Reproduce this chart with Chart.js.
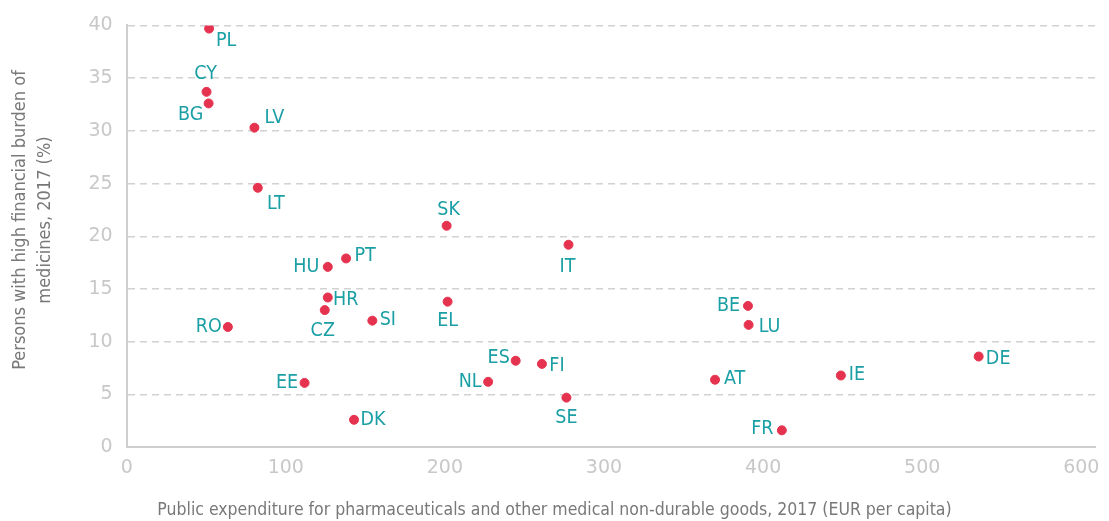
<!DOCTYPE html>
<html>
<head>
<meta charset="utf-8">
<script src="https://cdn.jsdelivr.net/npm/chart.js@4"></script>
<style>
  html, body { margin: 0; padding: 0; background: #fff; }
  #wrap { width: 1109px; height: 521px; }
</style>
</head>
<body>
<div id="wrap"><canvas id="chart" width="1109" height="521"></canvas></div>
<script>
// countries (labels)
const countries = ['PL','CY','BG','LV','LT','PT','HU','HR','CZ','SI','RO','EE','DK','SK','IT','EL','BE','LU','ES','FI','NL','AT','SE','FR','DE','IE'];
// public expenditure on pharmaceuticals, EUR per capita
const expenditure = [51.8,50.2,51.5,80.3,82.4,137.9,126.4,126.4,124.5,154.4,63.6,111.8,142.9,201.1,277.7,201.7,390.5,390.9,244.5,261.0,227.2,369.8,276.4,411.8,535.5,448.9];
// persons with high financial burden of medicines, %
const burden = [39.7,33.7,32.6,30.3,24.6,17.9,17.1,14.2,13.0,12.0,11.4,6.1,2.6,21.0,19.2,13.8,13.4,11.6,8.2,7.9,6.2,6.4,4.7,1.6,8.6,6.8];

// label offset from the point, in pixels (style only)
const labelDx = [17,-1,-18,20,18,19,-21.5,18,-2,15.5,-19,-17.5,19,2,-1,0,-19.5,21,-17,15,-18,19.5,0,-19.5,19.5,16];
const labelDy = [12.5,-18,11.5,-10,16.5,-2.5,0,2,21,-0.5,-0.5,0,0.5,-16,22,19.5,0,2,-2.5,2,0,-1,20.5,-1,2.5,-0.5];

const xTicks = [0,100,200,300,400,500,600];
const yTicks = [0,5,10,15,20,25,30,35,40];

const xTitle = 'Public expenditure for pharmaceuticals and other medical non-durable goods, 2017 (EUR per capita)';
const yTitle = ['Persons with high financial burden of', 'medicines, 2017 (%)'];

const condensed = "'DejaVu Sans Condensed', 'Liberation Sans Narrow', 'DejaVu Sans', sans-serif";
const teal = '#1a9fa5';
const red = '#e5334f';

const points = expenditure.map((x, i) => ({ x: x, y: burden[i] }));

const pointLabels = {
    id: 'pointLabels',
    afterDatasetsDraw(chart){
        const ctx = chart.ctx;
        const meta = chart.getDatasetMeta(0);
        ctx.save();
        ctx.font = '19.5px ' + condensed;
        ctx.fillStyle = teal;
        ctx.textAlign = 'center';
        ctx.textBaseline = 'middle';
        meta.data.forEach((pt, i) => {
            ctx.fillText(countries[i], pt.x + labelDx[i], pt.y + labelDy[i]);
        });
        ctx.restore();
    }
};

// axis titles, placed like the original (x title centred on the page)
const axisTitles = {
    id: 'axisTitles',
    afterDraw(chart){
        const ctx = chart.ctx;
        ctx.save();
        ctx.fillStyle = '#787878';
        ctx.textAlign = 'center';
        ctx.textBaseline = 'middle';
        ctx.font = '17.5px ' + condensed;
        ctx.fillText(xTitle, chart.width / 2, 510);
        ctx.translate(20, 220);
        ctx.rotate(-Math.PI / 2);
        ctx.font = '18px ' + condensed;
        yTitle.forEach((line, i) => ctx.fillText(line, 0, i * 25));
        ctx.restore();
    }
};

new Chart(document.getElementById('chart'), {
    type: 'scatter',
    data: {
        datasets: [{
            data: points,
            backgroundColor: red,
            borderColor: red,
            borderWidth: 1,
            pointRadius: 4.5,
            pointHoverRadius: 4.5
        }]
    },
    options: {
        responsive: false,
        animation: false,
        layout: { padding: { top: 16, right: -7, bottom: 32, left: 74.5 } },
        plugins: { legend: { display: false }, tooltip: { enabled: false } },
        scales: {
            x: {
                type: 'linear',
                min: 0,
                max: 609,
                afterBuildTicks: (axis) => { axis.ticks = xTicks.map(v => ({ value: v })); },
                grid: { display: false, drawTicks: false },
                border: { display: true, color: '#cfcfcf', width: 2 },
                ticks: {
                    color: '#c8c8c8',
                    font: { family: "'DejaVu Sans', sans-serif", size: 19 },
                    padding: 9.5,
                    maxRotation: 0
                }
            },
            y: {
                type: 'linear',
                min: 0,
                max: 40,
                afterBuildTicks: (axis) => { axis.ticks = yTicks.map(v => ({ value: v })); },
                grid: { color: '#d2d2d2', lineWidth: 1.5, drawTicks: false },
                border: { display: true, color: '#cfcfcf', width: 2, dash: [7, 5] },
                ticks: {
                    color: '#c8c8c8',
                    font: { family: "'DejaVu Sans', sans-serif", size: 19 },
                    padding: 14
                }
            }
        }
    },
    plugins: [pointLabels, axisTitles]
});
</script>
</body>
</html>
